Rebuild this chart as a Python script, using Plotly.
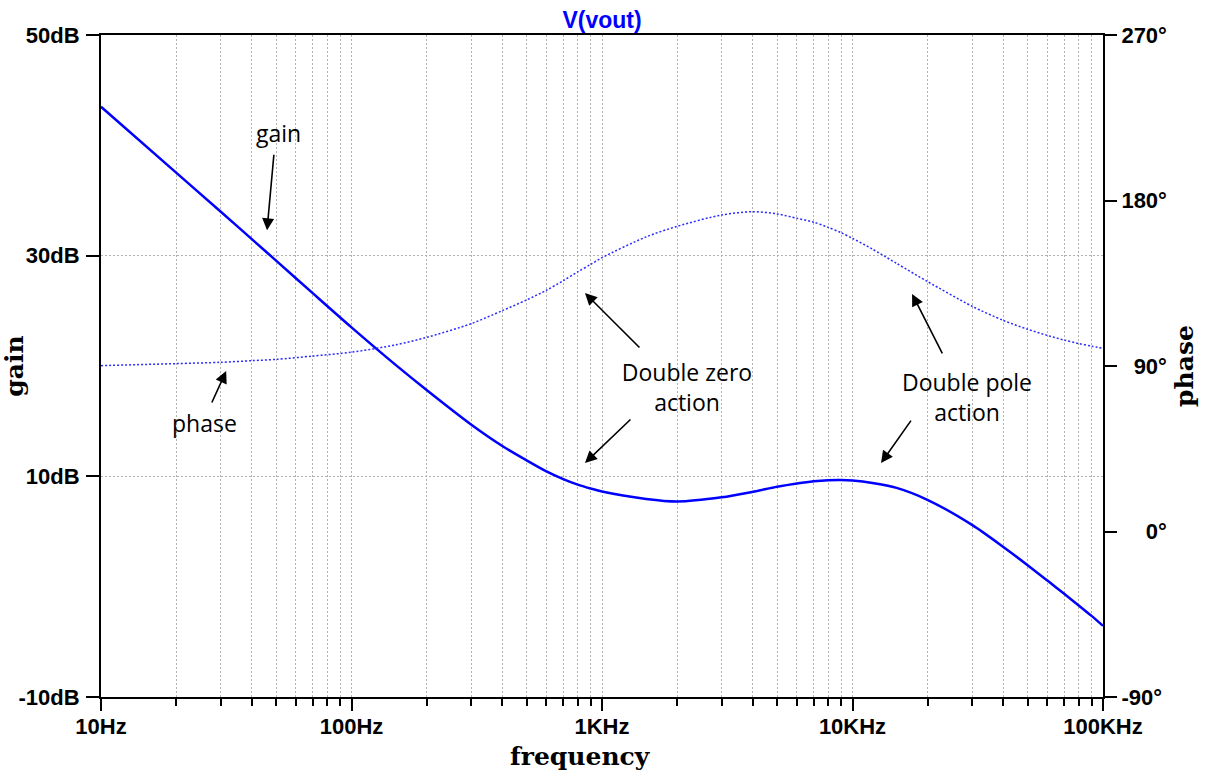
import math
import plotly.graph_objects as go

# Bode plot of V(vout): magnitude (dB) and phase (deg) versus frequency
freq_hz = [10, 20, 30, 40, 50, 70, 100, 150, 200, 300, 400, 500, 600, 700, 800,
           900, 1000, 1500, 2000, 3000, 4000, 5000, 6000, 7000, 8000, 9000,
           10000, 12000, 15000, 20000, 30000, 40000, 50000, 60000, 70000,
           80000, 90000, 100000]

gain_db = [43.5, 37.5, 34.0, 31.5, 29.55, 26.6, 23.5, 20.1, 17.8, 14.7, 12.75,
           11.45, 10.45, 9.75, 9.25, 8.9, 8.62, 7.95, 7.72, 8.1, 8.6, 9.05,
           9.35, 9.55, 9.65, 9.67, 9.62, 9.4, 8.95, 7.85, 5.6, 3.6, 1.95,
           0.55, -0.65, -1.7, -2.65, -3.55]

phase_deg = [90.2, 91.3, 92.0, 92.9, 93.6, 95.4, 97.5, 101.5, 105.6, 113.0,
             120.1, 125.9, 131.2, 136.4, 141.2, 145.2, 148.9, 160.2, 166.0,
             172.1, 173.9, 172.7, 170.3, 168.2, 165.4, 162.5, 159.4, 153.6,
             145.8, 135.8, 122.5, 114.8, 110.0, 106.6, 104.1, 102.2, 100.8,
             99.6]

x_major = [10, 100, 1000, 10000, 100000]
x_major_text = ["10Hz", "100Hz", "1KHz", "10KHz", "100KHz"]
x_minor = [m * d for d in (10, 100, 1000, 10000) for m in range(2, 10)]

gain_ticks = [-10, 10, 30, 50]
gain_tick_text = ["-10dB", "10dB", "30dB", "50dB"]
phase_ticks = [-90, 0, 90, 180, 270]
phase_tick_text = ["-90°", "\u2007\u20070°", "\u200790°", "180°", "270°"]

BLUE = "#0000ff"
GRID = "#b0b0b0"
TICK_FONT = dict(family="Liberation Sans, Arial, sans-serif", size=22,
                 color="black", weight="bold")
AXIS_TITLE_FONT = dict(family="DejaVu Serif, serif", size=25, color="black",
                       weight="bold")
NOTE_FONT = dict(family="Open Sans, sans-serif", size=23, color="black")

fig = go.Figure()
fig.add_trace(go.Scatter(x=freq_hz, y=gain_db, mode="lines", name="gain",
                         line=dict(color=BLUE, width=2.5, shape="spline",
                                   smoothing=0.8),
                         yaxis="y"))
fig.add_trace(go.Scatter(x=freq_hz, y=phase_deg, mode="lines", name="phase",
                         line=dict(color="#2b2bff", width=1.5, dash="2px,2px",
                                   shape="spline", smoothing=0.8),
                         yaxis="y2"))

fig.update_layout(
    width=1209, height=776,
    margin=dict(l=101, r=106, t=35, b=79, autoexpand=False),
    paper_bgcolor="white", plot_bgcolor="white",
    showlegend=False,
    title=dict(text="V(vout)", x=0.5, xanchor="center", xref="paper",
               y=1 - 20 / 776, yref="container", yanchor="middle",
               font=dict(family="Liberation Sans, Arial, sans-serif",
                         size=23, color=BLUE, weight="bold")),
    xaxis=dict(
        type="log", range=[1, 5], automargin=False,
        tickmode="array", tickvals=x_major, ticktext=x_major_text,
        ticks="outside", ticklen=12, tickwidth=2, tickcolor="black",
        tickfont=TICK_FONT, ticklabelstandoff=-3,
        showline=True, linewidth=2, linecolor="black", mirror=True,
        showgrid=True, gridcolor=GRID, gridwidth=1, griddash="2px,2px",
        zeroline=False,
        minor=dict(tickmode="array", tickvals=x_minor, ticks="outside",
                   ticklen=7, tickwidth=2, tickcolor="black",
                   showgrid=True, gridcolor=GRID, gridwidth=1,
                   griddash="2px,2px"),
    ),
    yaxis=dict(
        range=[-10, 50], automargin=False,
        tickmode="array", tickvals=gain_ticks, ticktext=gain_tick_text,
        ticks="outside", ticklen=13, tickwidth=2, tickcolor="black",
        tickfont=TICK_FONT, ticklabelstandoff=2,
        showline=True, linewidth=2, linecolor="black",
        showgrid=True, gridcolor=GRID, gridwidth=1, griddash="2px,2px",
        zeroline=False,
        title=dict(text="gain", font=AXIS_TITLE_FONT, standoff=0),
    ),
    yaxis2=dict(
        range=[-90, 270], overlaying="y", side="right", automargin=False,
        tickmode="array", tickvals=phase_ticks, ticktext=phase_tick_text,
        ticks="outside", ticklen=12, tickwidth=2, tickcolor="black",
        tickfont=TICK_FONT,
        showline=True, linewidth=2, linecolor="black",
        showgrid=False, zeroline=False,
        title=dict(text="phase", font=AXIS_TITLE_FONT, standoff=10),
    ),
)

# x-axis title, placed slightly left of the plot centre
fig.add_annotation(text="frequency",
                   x=(580 - 101) / (1103 - 101), y=-(757 - 697) / (697 - 35),
                   xref="paper", yref="paper", showarrow=False,
                   font=AXIS_TITLE_FONT, xanchor="center", yanchor="middle")

lg = math.log10

# Text callouts
notes = [
    ("gain", lg(50.9), 41.1, "y", None),
    ("phase", lg(26.0), 14.8, "y", None),
    ("Double zero<br>action", lg(2183), 18.1, "y", 170),
    ("Double pole<br>action", lg(28640), 17.2, "y", 170),
]
for text, xv, yv, yr, w in notes:
    fig.add_annotation(text=text, x=xv, y=yv, xref="x", yref=yr,
                       showarrow=False, font=NOTE_FONT, align="center",
                       width=w, xanchor="center", yanchor="middle")

# Pointer arrows: (tip x, tip y, y axis, tail dx, tail dy in pixels)
arrows = [
    (lg(46.0), 32.3, "y", 7, -77),
    (lg(31.6), 87.3, "y2", -15, 33),
    (lg(855), 129.7, "y2", 56, 56),
    (lg(855), 11.2, "y", 47, -45),
    (lg(17290), 129.2, "y2", 31, 61),
    (lg(13000), 11.2, "y", 31, -44),
]
for xv, yv, yr, dx, dy in arrows:
    fig.add_annotation(text="", x=xv, y=yv, xref="x", yref=yr,
                       ax=dx, ay=dy, axref="pixel", ayref="pixel",
                       showarrow=True, arrowhead=2, arrowsize=1.5,
                       arrowwidth=1.6, arrowcolor="black", standoff=0)

fig.write_html("out.html")
